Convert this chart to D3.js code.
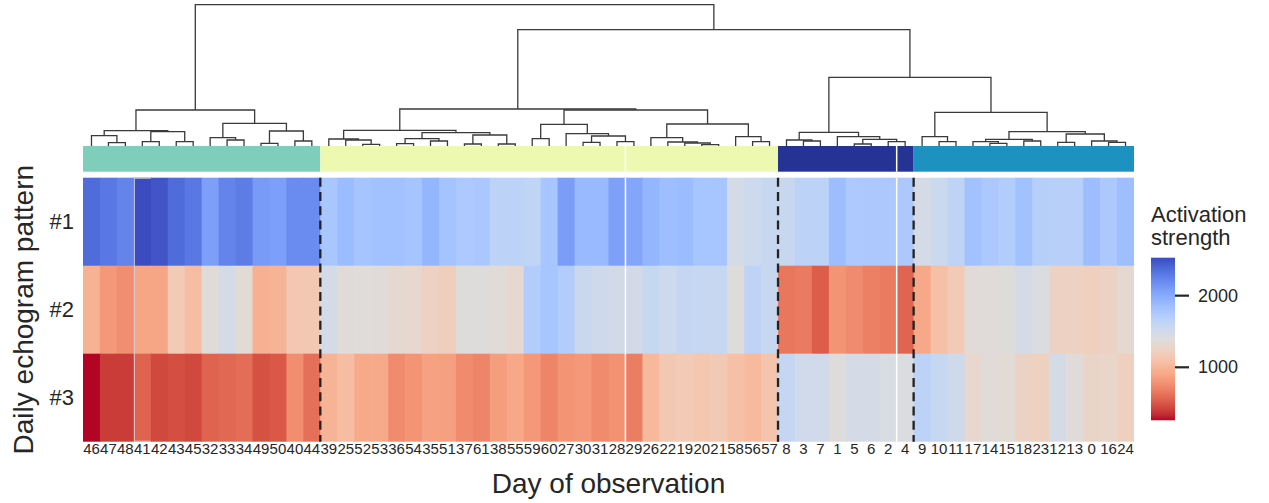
<!DOCTYPE html>
<html><head><meta charset="utf-8">
<script src="https://cdn.jsdelivr.net/npm/d3@7"></script>
<style>
body{margin:0;background:#fff;}
svg{display:block;}
text{font-family:"Liberation Sans",Arial,Helvetica,sans-serif;fill:#262626;}
</style>
</head><body>
<svg id="chart" width="1269" height="503"></svg>
<script>
// ---------------- data ----------------
const dayLabels = [46,47,48,41,42,43,45,32,33,34,49,50,40,44,
  39,25,52,53,36,54,35,51,37,61,38,55,59,60,27,30,31,28,29,26,22,19,20,21,58,56,57,
  8,3,7,1,5,6,2,4,
  9,10,11,17,14,15,18,23,12,13,0,16,24];
const patternLabels = ["#1","#2","#3"];
const pattern1 = [2370,2300,2235,2530,2485,2370,2300,2075,2235,2280,2100,2075,2190,2190,
  1780,1870,1800,1825,1825,1800,1915,1805,1747,1770,1645,1645,1620,1792,2087,1883,1883,2065,2030,1917,1850,1870,1792,1792,1475,1530,1565,
  1565,1645,1645,1860,1747,1758,1758,1758,
  1475,1543,1633,1826,1758,1724,1826,1690,1679,1679,1860,1758,1850];
const pattern2 = [969,816,760,895,895,1168,1055,1372,1463,1350,964,986,1145,1145,
  1463,1372,1380,1365,1325,1305,1236,1202,1384,1384,1361,1316,1724,1792,1724,1554,1520,1486,1486,1577,1531,1588,1577,1577,1384,1633,1565,
  646,669,532,793,748,691,669,566,
  907,1077,1168,1372,1372,1384,1475,1418,1236,1236,1213,1247,1327];
const pattern3 = [260,396,396,555,442,465,442,555,578,600,476,510,760,612,
  986,1055,918,918,748,793,873,862,748,714,850,907,816,714,793,816,748,782,680,1020,1145,1168,1134,1157,1077,1032,1111,
  1588,1497,1497,1384,1475,1475,1440,1418,
  1645,1577,1520,1305,1372,1350,1247,1225,1463,1372,1270,1280,1213];
const clusterSizes = [14,27,8,13];
const clusterColors = ["#7fcdbb","#edf8b1","#253494","#1d91c0"];
const gapAfterDays = [28,2];
const colorbarTicks = [1000,2000];
// dendrogram nodes: [linkage height, left, right]; leaves are day labels
const g1 = [36,
  [15.3,[10.3,46,[3.3,47,48]],[14.3,[4.3,41,42],[4.3,43,45]]],
  [22.7,[8.3,32,[6,33,34]],[15,[2.7,49,50],[5,40,44]]]];
const g2 = [37,
  [15.7,[7,39,[6,25,[1.7,52,53]]],[13.3,[7.3,[2.3,36,54],[5,35,51]],[11,[2,37,61],[2,38,55]]]],
  [36,[21.7,[7.3,59,60],[12.3,27,[10,[3.7,30,31],[4.3,28,29]]]],
      [22,[8.3,26,[4,22,[3,19,[1.3,20,21]]]],[9.3,58,[4.3,56,57]]]]];
const g3 = [13.7,[6,8,[5,3,7]],[9.3,1,[6.7,[2,5,6],[4.3,2,4]]]];
const g4 = [33.7,[9.3,9,[4.3,10,11]],
  [14.3,[6.7,[4.3,17,[2.7,14,15]],[5,18,23]],[12,[3.7,12,13],[5,0,[3.7,16,24]]]]];
const tree = [141.3, g1, [116.3, g2, [68.7, g3, g4]]];

// ---------------- colormap (coolwarm, reversed in use) ----------------
const coolwarm = [[59,76,192],[68,90,204],[77,104,215],[87,117,225],[98,130,234],[108,142,241],
 [119,154,247],[130,165,251],[141,176,254],[152,185,255],[163,194,255],[174,201,253],[184,208,249],
 [194,213,244],[204,217,238],[213,219,230],[221,221,221],[229,216,209],[236,211,197],[241,204,184],
 [245,196,172],[247,187,159],[247,177,147],[247,167,134],[244,154,123],[241,141,111],[236,127,99],
 [229,112,89],[222,96,77],[213,80,66],[203,62,56],[192,40,47],[180,4,38]];
const cw = d3.scaleLinear()
  .domain(coolwarm.map((_,i)=>i/(coolwarm.length-1)))
  .range(coolwarm.map(c=>d3.rgb(c[0],c[1],c[2]).toString()))
  .interpolate(d3.interpolateRgb).clamp(true);

const rows = [pattern1, pattern2, pattern3];
const allVals = rows.flat();
const [vmin, vmax] = d3.extent(allVals);
const colorOf = v => cw(1 - (v - vmin)/(vmax - vmin));

// ---------------- layout ----------------
const svg = d3.select("#chart");
const hmLeft = 83, hmRight = 1134, hmTop = 177.7, hmBottom = 441.7;
const x = d3.scaleBand().domain(d3.range(dayLabels.length)).range([hmLeft, hmRight]).padding(0);
const y = d3.scaleBand().domain(patternLabels).range([hmTop, hmBottom]).padding(0);
const ccTop = 146, ccBottom = 171.7;
const yD = d3.scaleLinear().domain([0, tree[0]]).range([146, 4.7]);

// heatmap cells
const cells = [];
rows.forEach((r, ri) => r.forEach((v, ci) => cells.push({ri, ci, v})));
svg.append("g").selectAll("rect").data(cells).join("rect")
  .attr("x", d => x(d.ci)).attr("y", d => y(patternLabels[d.ri]))
  .attr("width", d => d.ci === dayLabels.length-1 ? x.bandwidth() : x.bandwidth()+0.6)
  .attr("height", d => d.ri === rows.length-1 ? y.bandwidth() : y.bandwidth()+0.6)
  .attr("fill", d => colorOf(d.v));

// cluster color row (one block per cluster)
const clusterStarts = clusterSizes.map((n,k) => d3.sum(clusterSizes.slice(0,k)));
svg.append("g").selectAll("rect").data(clusterSizes).join("rect")
  .attr("x", (n,k) => x(clusterStarts[k]))
  .attr("y", ccTop)
  .attr("width", (n,k) => (k === clusterSizes.length-1 ? hmRight : x(clusterStarts[k]+n)) - x(clusterStarts[k]))
  .attr("height", ccBottom-ccTop)
  .attr("fill", (n,k) => clusterColors[k]);

// white separator lines
gapAfterDays.forEach(day => {
  const i = dayLabels.indexOf(day) + 1;
  const xx = x(i);
  svg.append("line").attr("x1", xx).attr("x2", xx).attr("y1", ccTop).attr("y2", ccBottom)
    .attr("stroke", "#fff").attr("stroke-width", 1.5);
  svg.append("line").attr("x1", xx).attr("x2", xx).attr("y1", hmTop).attr("y2", hmBottom)
    .attr("stroke", "#fff").attr("stroke-width", 1.5);
});

// faint outline artifact on one column
(function(){
  const i = 3, x0 = x(i), x1 = x(i)+x.bandwidth();
  const g = svg.append("g").attr("stroke","#cfcfd6").attr("stroke-width",1).attr("fill","none");
  g.append("line").attr("x1",x0+0.5).attr("x2",x0+0.5).attr("y1",hmTop).attr("y2",hmBottom);
  g.append("line").attr("x1",x0).attr("x2",x1).attr("y1",hmTop+0.5).attr("y2",hmTop+0.5);
  g.append("line").attr("x1",x0).attr("x2",x1).attr("y1",hmBottom-0.5).attr("y2",hmBottom-0.5);
})();

// dashed cluster boundaries
clusterStarts.slice(1).forEach(s => {
  const xx = x(s);
  svg.append("line").attr("x1", xx).attr("x2", xx).attr("y1", hmTop).attr("y2", hmBottom)
    .attr("stroke", "#222").attr("stroke-width", 2.3).attr("stroke-dasharray", "9 5.3");
});

// dendrogram
const dg = svg.append("g").attr("fill","none").attr("stroke","#3a3a3a").attr("stroke-width",1.3);
function drawNode(node){
  if (!Array.isArray(node)) {
    const i = dayLabels.indexOf(node);
    return {x: x(i) + x.bandwidth()/2, h: 0};
  }
  const [h, l, r] = node;
  const L = drawNode(l), R = drawNode(r);
  dg.append("path").attr("d",
    `M${L.x},${yD(L.h)}V${yD(h)}H${R.x}V${yD(R.h)}`);
  return {x: (L.x + R.x)/2, h};
}
drawNode(tree);

// x tick labels
svg.append("g").selectAll("text").data(dayLabels).join("text")
  .attr("x", (d,i) => x(i) + x.bandwidth()/2).attr("y", 454)
  .attr("text-anchor","middle").attr("font-size", 15).text(d => d);

// y tick labels
svg.append("g").selectAll("text").data(patternLabels).join("text")
  .attr("x", 74).attr("y", d => y(d) + y.bandwidth()/2)
  .attr("text-anchor","end").attr("dominant-baseline","central")
  .attr("font-size", 22).text(d => d);

// axis titles
svg.append("text").attr("x", (hmLeft+hmRight)/2).attr("y", 493)
  .attr("text-anchor","middle").attr("font-size", 28).text("Day of observation");
svg.append("text").attr("transform", `translate(33,${(hmTop+hmBottom)/2}) rotate(-90)`)
  .attr("text-anchor","middle").attr("font-size", 28).text("Daily echogram pattern");

// colorbar
const cbX = 1151, cbW = 24, cbTop = 257.7, cbBottom = 420.3;
const cbY = d3.scaleLinear().domain([vmin, vmax]).range([cbBottom, cbTop]);
const defs = svg.append("defs");
const grad = defs.append("linearGradient").attr("id","cbgrad")
  .attr("x1","0").attr("y1","1").attr("x2","0").attr("y2","0");
d3.range(0, 1.0001, 1/64).forEach(t => {
  grad.append("stop").attr("offset", t).attr("stop-color", cw(1 - t));
});
svg.append("rect").attr("x", cbX).attr("y", cbTop).attr("width", cbW)
  .attr("height", cbBottom - cbTop).attr("fill", "url(#cbgrad)");
const cbAxis = svg.append("g");
colorbarTicks.forEach(t => {
  cbAxis.append("line").attr("x1", cbX+cbW).attr("x2", cbX+cbW+14)
    .attr("y1", cbY(t)).attr("y2", cbY(t)).attr("stroke","#262626").attr("stroke-width",2.2);
  cbAxis.append("text").attr("x", cbX+cbW+23).attr("y", cbY(t))
    .attr("dominant-baseline","central").attr("font-size",18).text(t);
});
const cbTitle = svg.append("text").attr("x", cbX).attr("y", 222).attr("font-size", 22);
cbTitle.append("tspan").attr("x", cbX).attr("dy", 0).text("Activation");
cbTitle.append("tspan").attr("x", cbX).attr("dy", 23).text("strength");
</script>
</body></html>
